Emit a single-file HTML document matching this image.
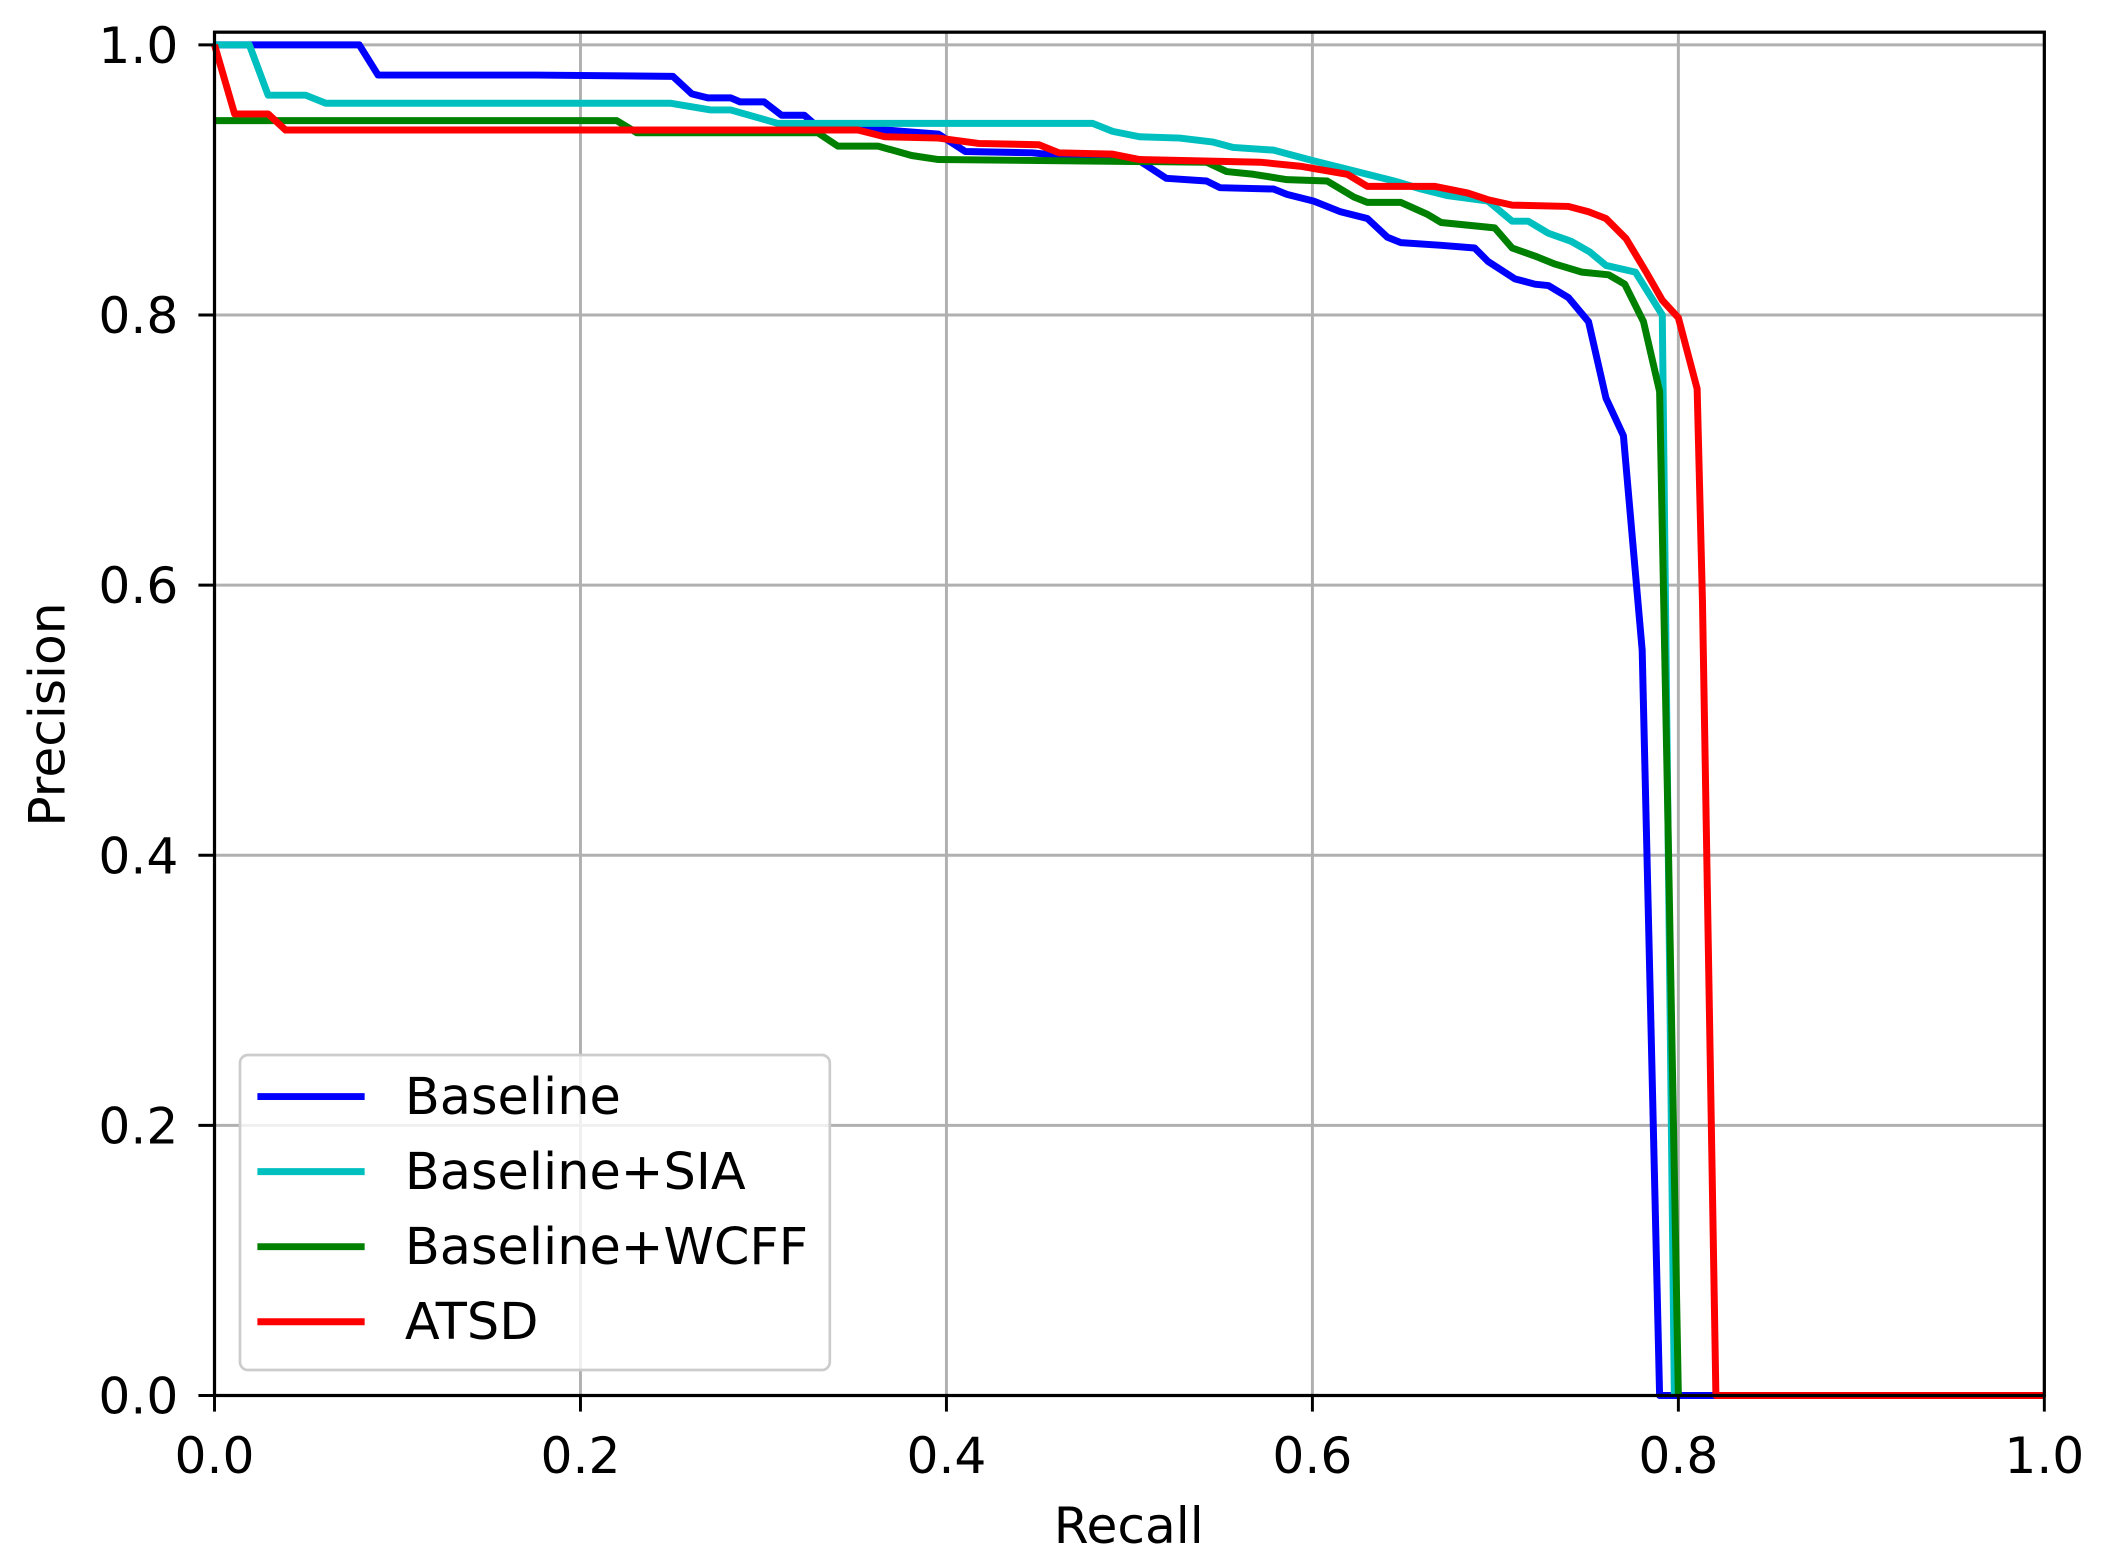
<!DOCTYPE html>
<html><head><meta charset="utf-8"><style>html,body{margin:0;padding:0;background:#fff}svg{display:block}text{font-family:"DejaVu Sans","Liberation Sans",sans-serif;fill:#000}</style></head>
<body>
<svg width="2102" height="1564" viewBox="0 0 1568 1166.7" xmlns="http://www.w3.org/2000/svg">
<rect width="1568" height="1166.7" fill="#fff"/>
<g stroke="#b0b0b0" stroke-width="2.2">
<line x1="160" y1="33.5" x2="1525" y2="33.5"/><line x1="160" y1="235" x2="1525" y2="235"/><line x1="160" y1="436.5" x2="1525" y2="436.5"/><line x1="160" y1="638" x2="1525" y2="638"/><line x1="160" y1="839.5" x2="1525" y2="839.5"/>
<line x1="433" y1="24" x2="433" y2="1041"/><line x1="706" y1="24" x2="706" y2="1041"/><line x1="979" y1="24" x2="979" y2="1041"/><line x1="1252" y1="24" x2="1252" y2="1041"/>
</g>
<g fill="none" stroke-width="5.2" stroke-linejoin="round">
<polyline stroke="#0000ff" points="160,33.5 268,33.5 282,56 400,56 502,57 516,70 528,73 545,73 552,76 570,76 583,86 600,86 608,93 700,100 720,113 770,114 790,116 830,116 850,120 870,133 900,135 910,140 950,141 960,145 980,150 1000,158 1020,163 1035,177 1045,181 1075,183 1100,185 1110,195 1130,208 1145,212 1155,213 1170,222 1185,240 1198,297 1211,325 1225,485 1238,1041 1525,1041"/>
<polyline stroke="#00bfbf" points="160,33.5 186,33.5 200,71 228,71 243,77 500,77 530,82 545,82 580,92 815,92 830,98 850,102 880,103 905,106 920,110 950,112 980,120 1000,125 1040,135 1060,141 1080,146 1110,150 1128,165 1140,165 1155,174 1172,180 1186,188 1198,198 1220,203 1240,235 1249,1041"/>
<polyline stroke="#008000" points="160,90 460,90 475,99 610,99 625,109 655,109 680,116 700,119 900,121 915,128 935,130 960,134 990,135 1010,147 1020,151 1045,151 1065,160 1075,166 1115,170 1128,185 1145,191 1160,197 1180,203 1200,205 1212,212 1226,240 1238,292 1244,600 1252,1041"/>
<polyline stroke="#ff0000" points="160,33.5 175,85 200,85 213,97 640,97 660,102 700,103 730,107 775,108 790,114 830,115 850,119 940,121 970,124 1005,130 1020,139 1070,139 1095,144 1110,149 1128,153 1170,154 1185,158 1198,163 1213,178 1228,203 1240,224 1252,237 1266,290 1270,450 1280,1041 1525,1041"/>
</g>
<rect x="160" y="24" width="1365" height="1017" fill="none" stroke="#000" stroke-width="2.4"/>
<g stroke="#000" stroke-width="2.2">
<line x1="148" y1="33.5" x2="160" y2="33.5"/><line x1="148" y1="235" x2="160" y2="235"/><line x1="148" y1="436.5" x2="160" y2="436.5"/><line x1="148" y1="638" x2="160" y2="638"/><line x1="148" y1="839.5" x2="160" y2="839.5"/><line x1="148" y1="1041" x2="160" y2="1041"/>
<line x1="160" y1="1041" x2="160" y2="1053"/><line x1="433" y1="1041" x2="433" y2="1053"/><line x1="706" y1="1041" x2="706" y2="1053"/><line x1="979" y1="1041" x2="979" y2="1053"/><line x1="1252" y1="1041" x2="1252" y2="1053"/><line x1="1525" y1="1041" x2="1525" y2="1053"/>
</g>
<g font-size="37.5" text-anchor="end">
<text x="133" y="47">1.0</text><text x="133" y="248.5">0.8</text><text x="133" y="450">0.6</text><text x="133" y="651.5">0.4</text><text x="133" y="853">0.2</text><text x="133" y="1054.5">0.0</text>
</g>
<g font-size="37.5" text-anchor="middle">
<text x="160" y="1099">0.0</text><text x="433" y="1099">0.2</text><text x="706" y="1099">0.4</text><text x="979" y="1099">0.6</text><text x="1252" y="1099">0.8</text><text x="1525" y="1099">1.0</text>
<text x="842" y="1151">Recall</text>
<text transform="translate(48,533) rotate(-90)">Precision</text>
</g>
<rect x="179" y="787" width="440" height="235" rx="6" fill="#fff" fill-opacity="0.8" stroke="#cccccc" stroke-width="2"/>
<g stroke-width="5.2">
<line x1="192" y1="818" x2="272" y2="818" stroke="#0000ff"/>
<line x1="192" y1="874" x2="272" y2="874" stroke="#00bfbf"/>
<line x1="192" y1="930" x2="272" y2="930" stroke="#008000"/>
<line x1="192" y1="986" x2="272" y2="986" stroke="#ff0000"/>
</g>
<g font-size="38">
<text x="302" y="831">Baseline</text><text x="302" y="887">Baseline+SIA</text><text x="302" y="943">Baseline+WCFF</text><text x="302" y="999">ATSD</text>
</g>
</svg>
</body></html>
